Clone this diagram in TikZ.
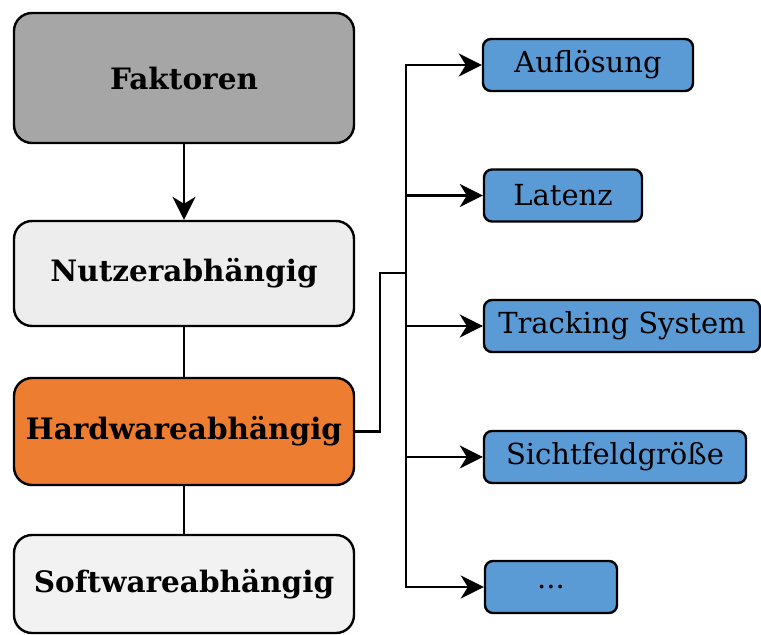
\documentclass[tikz,border=0pt]{standalone}
\usepackage{fontspec}
\setmainfont{DejaVu Serif}
\usetikzlibrary{arrows.meta}
\definecolor{cgray}{HTML}{A6A6A6}
\definecolor{cnutzer}{HTML}{EDEDED}
\definecolor{corange}{HTML}{ED7D31}
\definecolor{csoft}{HTML}{F2F2F2}
\definecolor{cblue}{HTML}{5B9BD5}
\begin{document}
\begin{tikzpicture}[x=1pt,y=-1pt,
  bigbox/.style={draw=black,line width=2.4pt,rounded corners=18pt,inner sep=0pt,
    minimum width=340pt,font=\fontsize{29.5}{32}\selectfont\bfseries},
  smallbox/.style={draw=black,line width=2.4pt,rounded corners=8pt,fill=cblue,inner sep=0pt,
    minimum height=52pt,font=\fontsize{29}{32}\selectfont},
  conn/.style={line width=2.4pt,draw=black},
  arr/.style={conn,-{Stealth[length=23pt,width=23pt,inset=7pt]}}]
\useasboundingbox (0,0) rectangle (761,635);
\node[bigbox,fill=cgray,minimum height=130pt] (fak) at (184,78) {Faktoren};
\node[bigbox,fill=cnutzer,minimum height=105pt] (nutz) at (184,273.5) {Nutzerabhängig};
\node[bigbox,fill=corange,minimum height=107pt] (hw) at (184,431.5) {Hardwareabhängig};
\node[bigbox,fill=csoft,minimum height=98pt] (sw) at (184,584) {Softwareabhängig};
\node[smallbox,minimum width=210pt] (auf) at (588,65) {Auflösung};
\node[smallbox,minimum width=158pt] (lat) at (563,195.5) {Latenz};
\node[smallbox,minimum width=276pt] (trk) at (622,326) {Tracking System};
\node[smallbox,minimum width=262pt] (sic) at (615,457) {Sichtfeldgröße};
\node[smallbox,minimum width=132pt] (dots) at (551,587) {...};
\draw[arr] (fak) -- (nutz);
\draw[conn] (nutz) -- (hw);
\draw[conn] (hw) -- (sw);
\coordinate (knee) at (380,273);
\coordinate (bus) at (406,273);
\draw[conn] (hw.east) -| (knee) -- (bus);
\draw[arr] (bus) |- (auf.west);
\draw[arr] (bus) |- (lat.west);
\draw[arr] (bus) |- (trk.west);
\draw[arr] (bus) |- (sic.west);
\draw[arr] (bus) |- (dots.west);
\end{tikzpicture}
\end{document}
